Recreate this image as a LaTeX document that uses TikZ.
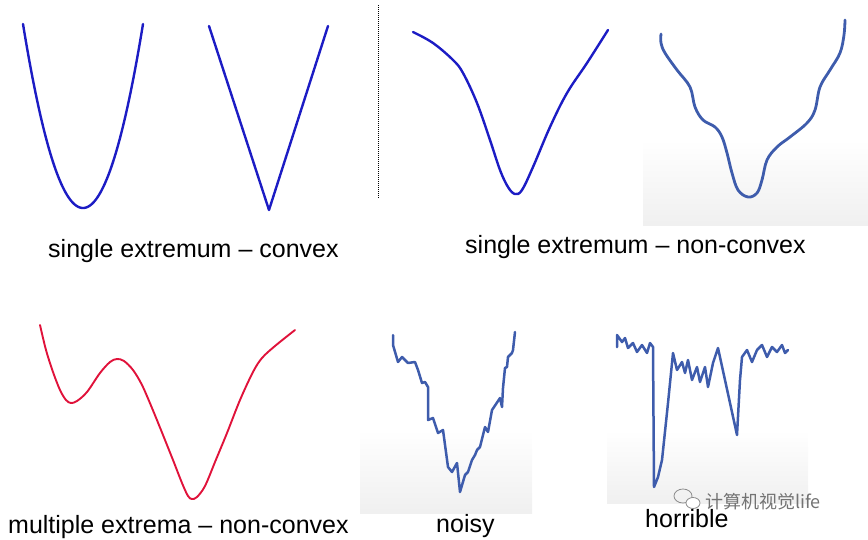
\documentclass[tikz,border=0pt]{standalone}
\usepackage{fontspec}
\setmainfont{Liberation Sans}
\newfontfamily\cjkfont{Noto Sans CJK SC}
\definecolor{pureblue}{RGB}{28,28,196}
\definecolor{handblue}{RGB}{62,92,172}
\definecolor{curvered}{RGB}{224,18,58}
\begin{document}
\begin{tikzpicture}[x=1pt,y=-1pt,
  label/.style={inner sep=0pt,anchor=base west,font=\fontsize{25}{30}\selectfont},
  blueline/.style={draw=pureblue,line width=2.4pt,line join=round,line cap=round},
  handline/.style={draw=handblue,line width=2.8pt,line join=round,line cap=round},
  redline/.style={draw=curvered,line width=1.9pt,line cap=round},
  panelbg/.style={top color=white,bottom color=black!6,draw=none}]
\useasboundingbox (0,0) rectangle (868,539);
% grey photo backgrounds
\shade[panelbg] (643,140) rectangle (868,225);
\shade[panelbg] (360,430) rectangle (532,513);
\shade[panelbg] (607,430) rectangle (808,503);
% 1 convex parabola
\draw[blueline] plot[domain=23:143,samples=80,smooth] (\x,{208-184*((\x-83)/60)^2});
% 2 V
\draw[blueline] (209,26) -- (269,210) -- (328,26);
% dotted separator
\draw[densely dotted,line width=1pt] (378,5) -- (378,198);
% 4 smooth non-convex
\draw[blueline] plot[smooth,tension=0.6] coordinates {(413,32) (433,43) (453,60) (463,73) (477,103) (490,140) (500,170) (508,187) (515,194) (522,190) (533,167) (550,127) (567,93) (587,63) (608,30)};
% 5 hand-drawn non-convex
\draw[handline] plot[smooth,tension=0.6] coordinates {(661,34) (661,43) (665,53) (677,70) (690,87) (695,107) (703,120) (715,127) (722,137) (727,153) (732,173) (738,190) (748,197) (757,193) (762,180) (767,160) (777,147) (790,137) (807,123) (815,110) (820,87) (830,70) (840,53) (844,35) (845,20)};
% 6 red multiple extrema
\draw[redline] plot[smooth,tension=0.55] coordinates {(40,325) (46,350) (53,372) (60,390) (66,400) (71,403) (77,401) (87,392) (100,373) (110,362) (117,359) (124,361) (133,370) (142,385) (152,408) (163,435) (173,460) (182,483) (188,496) (192,499) (197,497) (205,486) (215,462) (227,433) (240,400) (253,372) (262,358) (275,346) (295,330)};
% 7 noisy
\draw[handline,line width=2.5pt] (393,335) -- (393,345) -- (398,362) -- (402,357) -- (408,363) -- (415,362) -- (418,370) -- (422,383) -- (425,382) -- (428,387) -- (428,420) -- (433,418) -- (438,433) -- (443,430) -- (448,467) -- (452,472) -- (457,463) -- (460,492) -- (465,475) -- (468,472) -- (472,460) -- (475,455) -- (477,450) -- (480,447) -- (485,427) -- (488,432) -- (492,410) -- (500,398) -- (502,407) -- (503,388) -- (505,368) -- (507,367) -- (508,357) -- (512,353) -- (513,350) -- (515,332);
% 8 horrible
\draw[handline,line width=2.5pt] (617,347) -- (617,335) -- (622,342) -- (625,338) -- (628,348) -- (633,343) -- (637,352) -- (642,345) -- (647,353) -- (650,343) -- (653,347) -- (654,487) -- (658,477) -- (662,460) -- (668,403) -- (673,353) -- (677,370) -- (682,362) -- (685,373) -- (688,360) -- (692,380) -- (697,367) -- (700,382) -- (705,367) -- (708,387) -- (713,363) -- (718,348) -- (737,435) -- (740,380) -- (742,357) -- (747,350) -- (752,362) -- (757,350) -- (762,345) -- (767,357) -- (772,347) -- (777,352) -- (782,345) -- (785,353) -- (788,350);
% labels
\node[label] (l1) at (48,257) {single extremum – convex};
\node[label] (l2) at (465,253) {single extremum – non-convex};
\node[label] (l3) at (8,533) {multiple extrema – non-convex};
\node[label] (l4) at (436,532) {noisy};
\node[label] (l5) at (645,527) {horrible};
% watermark
\draw[black!45,line width=0.8pt] (683,496) ellipse (9 and 7);
\draw[black!45,line width=0.8pt,fill=white] (693,503) ellipse (7 and 5.5);
\node[inner sep=0pt,anchor=base west,text=black!55,font=\cjkfont\fontsize{18}{20}\selectfont] (wm) at (705,508) {计算机视觉life};
\end{tikzpicture}
\end{document}
